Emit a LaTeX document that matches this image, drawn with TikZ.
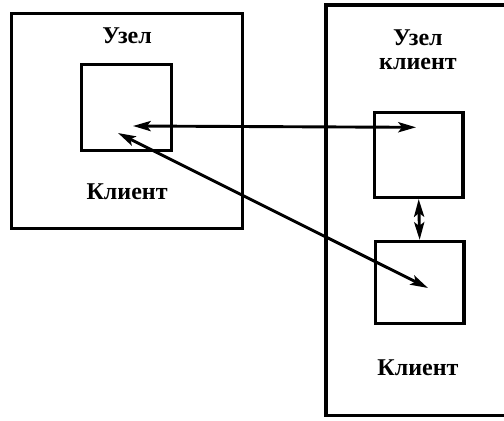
\documentclass[tikz,border=0pt]{standalone}
\usepackage{fontspec}
\setmainfont{Liberation Serif}
\usetikzlibrary{arrows.meta,positioning}

\begin{document}
\begin{tikzpicture}[>={Stealth[length=14pt,width=8pt,inset=3pt]},
    frame/.style={draw, line width=2.8pt},
    clientbox/.style={draw, line width=2.8pt, minimum width=2.45cm, minimum height=2.35cm},
    link/.style={line width=2.3pt, <->},
    lbl/.style={font=\fontsize{19}{19}\selectfont\bfseries, align=center}]
    \clip (0,0) rectangle (14,11.667);

    % Left node
    \draw[frame] (0.325,11.296) rectangle (6.742,5.325);
    \node[lbl] (nodeA) at (3.53,10.667) {Узел};
    \node[clientbox, minimum width=2.5cm, minimum height=2.4cm] (clientA) at (3.519,8.681) {};
    \node[lbl] (labelA) at (3.53,6.333) {Клиент};

    % Right node
    \draw[frame] (9.056,11.528) rectangle (14.5,0.120);
    \node[lbl] (nodeB) at (11.61,10.28) {Узел\\клиент};
    \node[clientbox] (clientB) at (11.63,7.361) {};
    \node[clientbox, minimum height=2.27cm] (clientC) at (11.657,3.819) {};
    \node[lbl] (labelC) at (11.61,1.444) {Клиент};

    % Arrow ends
    \coordinate (a1) at (3.694,8.167);
    \coordinate (b1) at (11.556,8.130);
    \coordinate (a2) at (3.278,7.972);
    \coordinate (c2) at (11.889,3.667);

    % Links
    \draw[link] (a1) -- (b1);
    \draw[link] (a2) -- (c2);
    \draw[link] (clientB.south) -- (clientC.north);
\end{tikzpicture}
\end{document}
